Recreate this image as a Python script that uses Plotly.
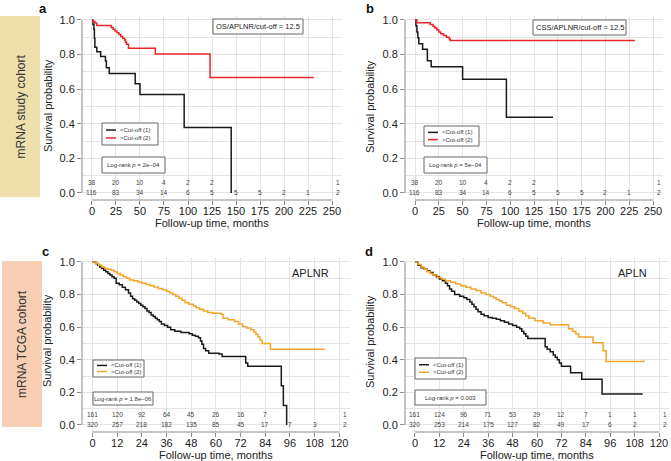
import plotly.graph_objects as go

# ---------------- data ----------------
# Panel a: OS, APLNR, mRNA study cohort
a_t_low = [0, 1, 2, 2.5, 3, 5, 9, 14, 15, 18, 45, 50, 96, 145]
a_s_low = [1.0, 0.974, 0.947, 0.895, 0.842, 0.816, 0.789, 0.763, 0.724, 0.69, 0.632, 0.569, 0.379, 0.0]
a_t_high = [0, 1, 3, 5, 20, 22, 24, 26, 28, 30, 32, 34, 35, 36, 38, 66, 123, 231]
a_s_high = [1.0, 0.991, 0.982, 0.968, 0.956, 0.946, 0.936, 0.926, 0.916, 0.905, 0.895, 0.884, 0.872, 0.86, 0.836, 0.804, 0.668, 0.668]

# Panel b: CSS, APLNR, mRNA study cohort
b_t_low = [0, 1, 2, 3, 4, 8, 13, 17, 50, 96, 145]
b_s_low = [1.0, 0.966, 0.931, 0.897, 0.862, 0.831, 0.765, 0.73, 0.657, 0.438, 0.438]
b_t_high = [0, 2, 16, 19, 21, 23, 25, 27, 30, 33, 36, 37, 231]
b_s_high = [1.0, 0.984, 0.974, 0.963, 0.953, 0.942, 0.931, 0.92, 0.91, 0.9, 0.89, 0.881, 0.881]

# Panel c: APLNR, TCGA cohort
c_t_low = [0, 1.5, 2.5, 3.5, 4.5, 5.5, 6.5, 7.5, 8.5, 9.5,
           10.5, 11.5, 13, 14.5, 16, 17.5, 18.5, 19.5, 20.5, 21.5,
           22.5, 23.5, 24.5, 25.5, 26.5, 27.5, 28.5, 29.5, 30.5, 31.5,
           32.5, 33.5, 35, 36.5, 38, 40, 43, 47, 48.5, 50,
           51.5, 52.5, 53.2, 54, 55, 56.5, 61.5, 63, 74.5, 75.5,
           91.8, 92.8, 94.4]
c_s_low = [1.0, 0.99, 0.98, 0.97, 0.96, 0.95, 0.94, 0.93, 0.92, 0.91,
           0.90, 0.87, 0.86, 0.845, 0.83, 0.81, 0.79, 0.775, 0.765, 0.755,
           0.745, 0.735, 0.725, 0.715, 0.70, 0.69, 0.675, 0.665, 0.655, 0.645,
           0.635, 0.62, 0.61, 0.60, 0.585, 0.575, 0.567, 0.56, 0.55, 0.545,
           0.535, 0.515, 0.495, 0.47, 0.455, 0.44, 0.435, 0.42, 0.38, 0.36,
           0.24, 0.12, 0.0]
c_t_high = [0, 1.5, 3, 4.5, 6, 7.5, 9, 10.5, 12, 13.5,
            15, 16.5, 18, 20, 22, 24, 26, 28, 30, 32,
            34, 36, 37.5, 39, 40.5, 42, 43.5, 45, 47, 49,
            50.5, 52, 54, 56, 58.5, 62.5, 63.5, 66, 69, 71,
            73, 75, 77, 78.5, 79.5, 80.5, 81.5, 82.5, 86.5, 113]
c_s_high = [1.0, 0.99, 0.98, 0.97, 0.96, 0.955, 0.95, 0.94, 0.93, 0.92,
            0.91, 0.90, 0.89, 0.885, 0.878, 0.87, 0.862, 0.854, 0.846, 0.838,
            0.83, 0.82, 0.81, 0.80, 0.79, 0.778, 0.765, 0.75, 0.74, 0.73,
            0.72, 0.71, 0.70, 0.69, 0.685, 0.68, 0.655, 0.645, 0.635, 0.62,
            0.605, 0.595, 0.585, 0.57, 0.555, 0.54, 0.52, 0.50, 0.465, 0.465]

# Panel d: APLN, TCGA cohort
d_t_low = [0, 1.5, 3, 4.5, 6, 7.5, 9, 10.5, 12, 13.5,
           15, 16, 17, 18, 19.5, 22, 24, 25.5, 27, 28,
           29, 30, 31, 32.5, 34, 36, 38, 40, 42, 44,
           46, 48, 50, 51.5, 52.5, 53.5, 54.5, 55.5, 64, 65,
           66.5, 68, 69, 70, 71, 72, 76.5, 82, 92, 112]
d_s_low = [1.0, 0.98, 0.965, 0.955, 0.945, 0.935, 0.92, 0.91, 0.895, 0.885,
           0.87, 0.855, 0.835, 0.82, 0.80, 0.79, 0.78, 0.77, 0.755, 0.74,
           0.725, 0.71, 0.695, 0.68, 0.67, 0.66, 0.655, 0.648, 0.64, 0.63,
           0.62, 0.61, 0.60, 0.59, 0.575, 0.56, 0.545, 0.53, 0.48, 0.465,
           0.45, 0.43, 0.415, 0.40, 0.38, 0.36, 0.32, 0.28, 0.19, 0.19]
d_t_high = [0, 1.5, 3, 4.5, 6, 7.5, 9, 11, 13, 15,
            17.5, 20, 22.5, 25, 27.5, 30, 32.5, 35, 37, 38.5,
            40, 41.5, 43, 45, 47, 49, 51, 53, 54.5, 56,
            59, 63, 66.5, 75.5, 77.5, 79, 80.5, 87.5, 92.5, 94,
            113]
d_s_high = [1.0, 0.985, 0.97, 0.955, 0.94, 0.93, 0.92, 0.905, 0.895, 0.885,
            0.875, 0.865, 0.855, 0.845, 0.835, 0.825, 0.81, 0.80, 0.79, 0.78,
            0.77, 0.76, 0.75, 0.735, 0.725, 0.715, 0.70, 0.685, 0.67, 0.655,
            0.64, 0.625, 0.615, 0.59, 0.575, 0.56, 0.54, 0.505, 0.455, 0.39,
            0.39]

# ticks and numbers at risk
study_ticks = [0, 25, 50, 75, 100, 125, 150, 175, 200, 225, 250]
tcga_ticks = [0, 12, 24, 36, 48, 60, 72, 84, 96, 108, 120]
y_ticks = [0.0, 0.2, 0.4, 0.6, 0.8, 1.0]

a_risk_low = [38, 20, 10, 4, 2, 2]
a_risk_high = [116, 83, 34, 14, 6, 5, 5, 5, 2, 1]
b_risk_low = [38, 20, 10, 4, 2, 2]
b_risk_high = [116, 83, 34, 14, 6, 5, 5, 5, 2, 1]
c_risk_low = [161, 120, 92, 64, 45, 26, 16, 7]
c_risk_high = [320, 257, 218, 182, 135, 85, 45, 17, 7, 3]
d_risk_low = [161, 124, 96, 71, 53, 29, 12, 7, 1, 1]
d_risk_high = [320, 253, 214, 175, 127, 82, 49, 17, 6, 2]

legend_labels = ["<Cut-off (1)", ">Cut-off (2)"]
panel_letters = ["a", "b", "c", "d"]
panel_notes = ["OS/APLNR/cut-off = 12.5", "CSS/APLNR/cut-off = 12.5", "APLNR", "APLN"]
logrank_p = ["2e\u221204", "5e\u221204", "1.8e\u221206", "0.003"]
cohort_labels = ["mRNA study cohort", "mRNA TCGA cohort"]

# ---------------- styling / layout ----------------
W, H = 671, 461
FONT = "Liberation Sans, Arial, Helvetica, sans-serif"
BLACK = "#1a1a1a"
RED = "#e8262a"
ORANGE = "#f2a62a"
GRID = "#e4e4e4"
AXC = "#8a8a8a"
TXT = "#222"


def px(x):
    return x / W


def py(y):
    return 1 - y / H


def ptext(x, y, text, size, color=TXT, angle=0, xanchor="center"):
    return dict(xref="paper", yref="paper", x=px(x), y=py(y), text=text, textangle=angle,
                showarrow=False, xanchor=xanchor, yanchor="middle",
                font=dict(size=size, color=color, family=FONT))


panels = [
    dict(xd=(82, 342), yd=(16, 200), xr=(-10.4, 260.4), yr=(-0.0405, 1.023),
         ticks=study_ticks, t1=a_t_low, s1=a_s_low, t2=a_t_high, s2=a_s_high, col2=RED,
         r1=a_risk_low, r2=a_risk_high,
         letter=(43, 8), ytitle=(48, 106), xtitle=(212, 223),
         note_box=(213, 19, 303, 34), leg=(102, 123, 158, 145), lr=(102, 157, 165, 173)),
    dict(xd=(405, 663), yd=(16, 200), xr=(-10.5, 260.5), yr=(-0.0405, 1.023),
         ticks=study_ticks, t1=b_t_low, s1=b_s_low, t2=b_t_high, s2=b_s_high, col2=RED,
         r1=b_risk_low, r2=b_risk_high,
         letter=(370, 8), ytitle=(370, 106), xtitle=(534, 223),
         note_box=(533, 20, 626, 35), leg=(424, 126, 479, 146), lr=(424, 157, 487, 173)),
    dict(xd=(82, 350), yd=(258, 432), xr=(-5.1, 125.2), yr=(-0.043, 1.0245),
         ticks=tcga_ticks, t1=c_t_low, s1=c_s_low, t2=c_t_high, s2=c_s_high, col2=ORANGE,
         r1=c_risk_low, r2=c_risk_high,
         letter=(45, 251), ytitle=(47, 341), xtitle=(216, 455),
         note_box=None, note_pos=(310, 273), leg=(93, 360, 144, 377), lr=(93, 392, 153, 405)),
    dict(xd=(405, 669), yd=(258, 432), xr=(-4.9, 124.9), yr=(-0.043, 1.0245),
         ticks=tcga_ticks, t1=d_t_low, s1=d_s_low, t2=d_t_high, s2=d_s_high, col2=ORANGE,
         r1=d_risk_low, r2=d_risk_high,
         letter=(369, 251), ytitle=(370, 341), xtitle=(537, 455),
         note_box=None, note_pos=(632, 273), leg=(415, 358, 466, 379), lr=(415, 390, 486, 405)),
]

fig = go.Figure()
shapes = []
annos = []

# cohort side boxes
for (x0, y0, x1, y1), col, lab in [((0, 16, 40, 197), "#efdfaa", cohort_labels[0]),
                                   ((2, 261, 42, 427), "#f8cfb5", cohort_labels[1])]:
    shapes.append(dict(type="rect", xref="paper", yref="paper", x0=px(x0), x1=px(x1),
                       y0=py(y1), y1=py(y0), fillcolor=col, line=dict(width=0), layer="below"))
    annos.append(ptext((x0 + x1) / 2, (y0 + y1) / 2, lab, 12, "#333", -90))

for i, p in enumerate(panels):
    n = i + 1
    xa = "x" if n == 1 else f"x{n}"
    ya = "y" if n == 1 else f"y{n}"
    xk = "xaxis" if n == 1 else f"xaxis{n}"
    yk = "yaxis" if n == 1 else f"yaxis{n}"

    fig.add_trace(go.Scatter(x=p["t1"], y=p["s1"], mode="lines", line_shape="hv",
                             line=dict(color=BLACK, width=1.5), xaxis=xa, yaxis=ya,
                             showlegend=False, cliponaxis=False, hoverinfo="skip"))
    fig.add_trace(go.Scatter(x=p["t2"], y=p["s2"], mode="lines", line_shape="hv",
                             line=dict(color=p["col2"], width=1.5), xaxis=xa, yaxis=ya,
                             showlegend=False, cliponaxis=False, hoverinfo="skip"))

    ticks = p["ticks"]
    fig.update_layout(**{
        xk: dict(domain=[px(p["xd"][0]), px(p["xd"][1])], range=list(p["xr"]), anchor=ya,
                 tickvals=ticks, ticks="outside", ticklen=4, tickcolor=AXC,
                 ticklabelstandoff=-3,
                 showgrid=True, gridcolor=GRID, gridwidth=1, zeroline=False, showline=False,
                 automargin=False,
                 tickfont=dict(size=11, color=TXT, family=FONT)),
        yk: dict(domain=[py(p["yd"][1]), py(p["yd"][0])], range=list(p["yr"]), anchor=xa,
                 tickvals=y_ticks, tickformat=".1f", ticks="outside", ticklen=4, tickcolor=AXC,
                 showgrid=True, gridcolor=GRID, gridwidth=1, zeroline=False, showline=False,
                 automargin=False,
                 minor=dict(dtick=0.1, tick0=0, showgrid=True, gridcolor=GRID, ticks=""),
                 tickfont=dict(size=11, color=TXT, family=FONT)),
    })

    # detached axis lines (R style) spanning the tick range
    shapes.append(dict(type="line", xref=f"{xa} domain", yref=ya, x0=0, x1=0,
                       y0=y_ticks[0], y1=y_ticks[-1], line=dict(color=AXC, width=1)))
    shapes.append(dict(type="line", xref=xa, yref=f"{ya} domain", x0=ticks[0], x1=ticks[-1],
                       y0=0, y1=0, line=dict(color=AXC, width=1)))

    # numbers at risk
    rf = dict(size=6.5, color="#444", family=FONT)
    for k, v in enumerate(p["r1"]):
        annos.append(dict(xref=xa, yref=ya, x=ticks[k], y=0.062, text=str(v), showarrow=False,
                          xanchor="center", yanchor="middle", font=rf))
    for k, v in enumerate(p["r2"]):
        annos.append(dict(xref=xa, yref=ya, x=ticks[k], y=0.0, text=str(v), showarrow=False,
                          xanchor="center", yanchor="middle", font=rf))
    for yy, lab in [(0.062, "1"), (0.0, "2")]:
        annos.append(dict(xref=xa, yref=ya, x=ticks[-1] * 1.025, y=yy, text=lab, showarrow=False,
                          xanchor="center", yanchor="middle", font=rf))

    # panel letter, axis titles
    annos.append(ptext(p["letter"][0], p["letter"][1], f"<b>{panel_letters[i]}</b>", 13, "#111"))
    annos.append(ptext(p["ytitle"][0], p["ytitle"][1], "Survival probability", 11, TXT, -90))
    annos.append(ptext(p["xtitle"][0], p["xtitle"][1], "Follow-up time, months", 11))

    # top-right note
    if p["note_box"]:
        x0, y0, x1, y1 = p["note_box"]
        shapes.append(dict(type="rect", xref="paper", yref="paper", x0=px(x0), x1=px(x1),
                           y0=py(y1), y1=py(y0), line=dict(color="#666", width=1),
                           fillcolor="white"))
        annos.append(ptext((x0 + x1) / 2, (y0 + y1) / 2, panel_notes[i], 7.5))
    else:
        annos.append(ptext(p["note_pos"][0], p["note_pos"][1], panel_notes[i], 11))

    # legend box
    x0, y0, x1, y1 = p["leg"]
    shapes.append(dict(type="rect", xref="paper", yref="paper", x0=px(x0), x1=px(x1),
                       y0=py(y1), y1=py(y0), line=dict(color="#666", width=1), fillcolor="white"))
    hh = (y1 - y0)
    for j, (col, lab) in enumerate([(BLACK, legend_labels[0]), (p["col2"], legend_labels[1])]):
        yy = y0 + hh * (0.32 + 0.36 * j)
        shapes.append(dict(type="line", xref="paper", yref="paper", x0=px(x0 + 4), x1=px(x0 + 14),
                           y0=py(yy), y1=py(yy), line=dict(color=col, width=1.5)))
        annos.append(ptext(x0 + 16, yy, lab, 6, "#333", 0, "left"))

    # log-rank box
    x0, y0, x1, y1 = p["lr"]
    shapes.append(dict(type="rect", xref="paper", yref="paper", x0=px(x0), x1=px(x1),
                       y0=py(y1), y1=py(y0), line=dict(color="#666", width=1), fillcolor="white"))
    annos.append(ptext((x0 + x1) / 2, (y0 + y1) / 2, f"Log-rank <i>p</i> = {logrank_p[i]}",
                       6, "#333"))

fig.update_layout(width=W, height=H, margin=dict(l=0, r=0, t=0, b=0, autoexpand=False),
                  paper_bgcolor="white", plot_bgcolor="white",
                  shapes=shapes, annotations=annos, showlegend=False,
                  font=dict(family=FONT), hovermode=False)

fig.write_html("out.html", config={"displayModeBar": False},
               post_script="document.body.style.margin='0';document.body.style.padding='0';")
